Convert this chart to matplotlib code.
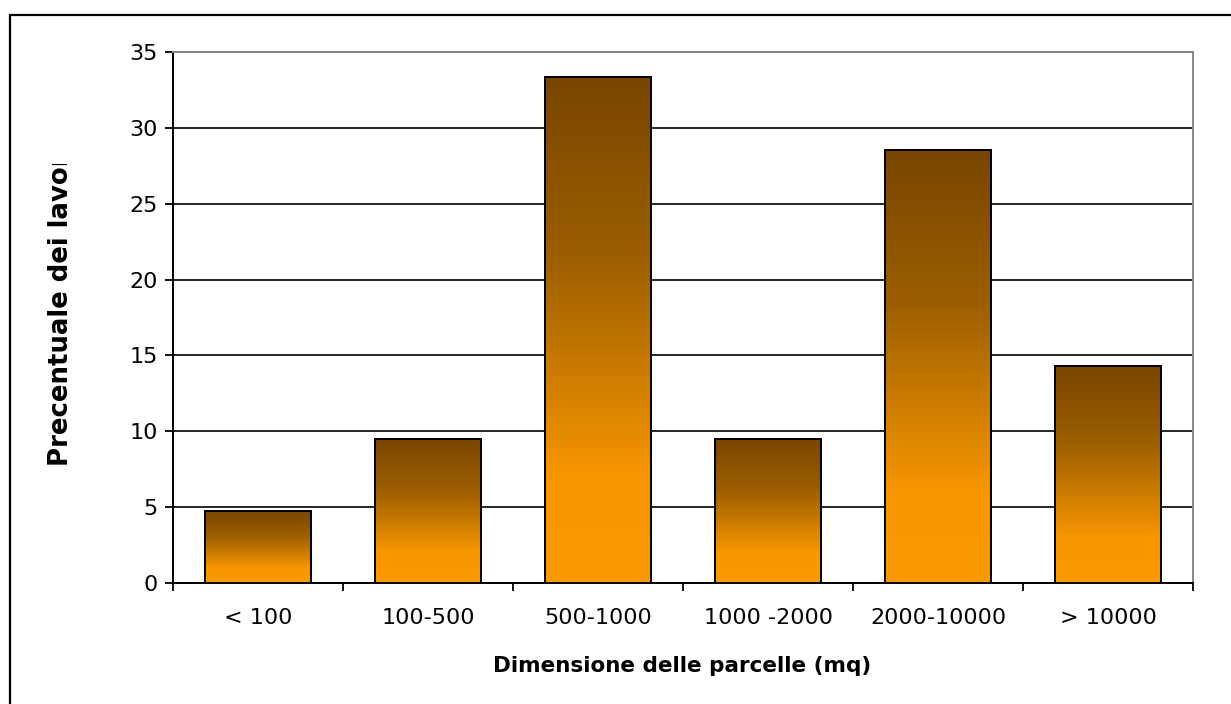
import numpy as np
import matplotlib
matplotlib.use("Agg")
import matplotlib.pyplot as plt
from matplotlib.patches import Rectangle
from matplotlib.colors import LinearSegmentedColormap
from matplotlib.transforms import Bbox

categories = ["< 100", "100-500", "500-1000", "1000 -2000", "2000-10000", "> 10000"]
values = [4.76, 9.52, 33.33, 9.52, 28.57, 14.29]
yticks = [0, 5, 10, 15, 20, 25, 30, 35]
xlabel = "Dimensione delle parcelle (mq)"
ylabel = "Precentuale dei lavori"

W, H = 1231, 704
fig = plt.figure(figsize=(W / 100, H / 100), dpi=100)
fig.patch.set_facecolor("white")

# outer chart frame (extends past right/bottom edges)
frame = Rectangle((9.5 / W, -0.1), 1.2, (H - 14.5) / H + 0.1,
                  transform=fig.transFigure, fill=False, edgecolor="black", lw=1.6)
fig.add_artist(frame)

left, right, top, bottom = 173, 1193, 52, 583
ax = fig.add_axes([left / W, 1 - bottom / H, (right - left) / W, (bottom - top) / H])

x = np.arange(len(categories))
cmap = LinearSegmentedColormap.from_list(
    "grad", [(0.0, "#784600"), (0.35, "#9c5e00"), (0.6, "#cf7e00"), (0.8, "#f99700"), (1.0, "#fb9900")])
grad = np.linspace(0, 1, 256).reshape(-1, 1)

bw = 0.625
bars = ax.bar(x, values, width=bw, facecolor="none", edgecolor="black", lw=1.4, zorder=3)
for b, v in zip(bars, values):
    x0 = b.get_x()
    im = ax.imshow(grad, cmap=cmap, aspect="auto", origin="upper",
                   extent=(x0, x0 + bw, 0, v), zorder=2, interpolation="bilinear")
    im.set_clip_path(b)

ax.set_xlim(-0.5, len(categories) - 0.5)
ax.set_ylim(0, 35)
ax.set_yticks(yticks)
ax.set_yticklabels([str(t) for t in yticks], fontsize=16)
ax.yaxis.grid(True, color="black", lw=1.2, zorder=1)
ax.set_axisbelow(True)
ax.set_xticks(x)
ax.set_xticklabels(categories, fontsize=16)
ax.tick_params(axis="x", length=0, pad=18)
ax.set_xticks(np.arange(len(categories) + 1) - 0.5, minor=True)
ax.tick_params(axis="x", which="minor", length=6, width=1.3, direction="out")
ax.tick_params(axis="y", length=6, width=1.3, direction="out", pad=5)

for s in ["left", "bottom"]:
    ax.spines[s].set_color("black")
    ax.spines[s].set_linewidth(1.4)
for s in ["top", "right"]:
    ax.spines[s].set_color("#888888")
    ax.spines[s].set_linewidth(1.4)

fig.text((492 + 873) / 2 / W, 1 - 666 / H, xlabel, fontsize=15.5, fontweight="bold",
         ha="center", va="center")

t = fig.text(61 / W, 1 - 466 / H, ylabel, fontsize=18.75, fontweight="bold",
             rotation=90, rotation_mode="anchor", ha="left", va="center")
t.set_clip_box(Bbox.from_extents(0, 0, W, H - 164))
t.set_clip_on(True)

fig.savefig("out.png", dpi=100, facecolor="white")
